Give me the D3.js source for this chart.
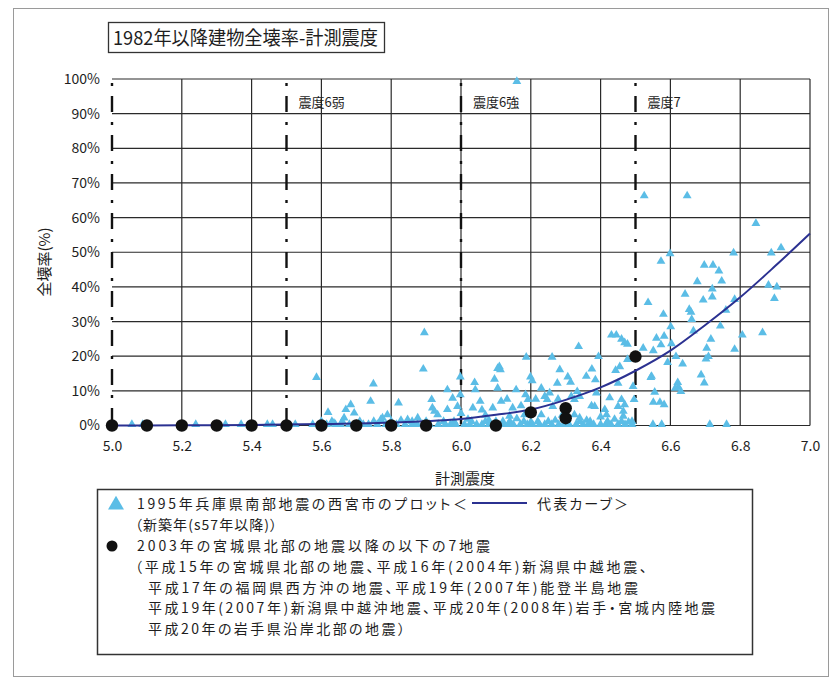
<!DOCTYPE html>
<html>
<head>
<meta charset="utf-8">
<script src="https://cdn.jsdelivr.net/npm/d3@7"></script>
<style>
  body { margin: 0; background: #fff; }
  svg text {
    font-family: "Noto Sans CJK JP", "Noto Sans", sans-serif;
    font-feature-settings: "palt";
    fill: #1e1e1e;
  }
</style>
</head>
<body>
<svg id="chart" width="837" height="683"></svg>
<script>
// ---- data ----
const titleText = "1982年以降建物全壊率-計測震度";
const xAxisTitle = "計測震度";
const yAxisTitle = "全壊率(%)";
const xTicks = [5.0, 5.2, 5.4, 5.6, 5.8, 6.0, 6.2, 6.4, 6.6, 6.8, 7.0];
const yTicks = [0, 10, 20, 30, 40, 50, 60, 70, 80, 90, 100];

// JMA intensity class boundaries (dash-dot lines) and their labels
const intensityBounds = [5.0, 5.5, 6.0, 6.5];
const intensityLabels = [
  { at: 5.5, text: "震度6弱" },
  { at: 6.0, text: "震度6強" },
  { at: 6.5, text: "震度7" }
];

// 1995 Hyogo-ken Nanbu earthquake, Nishinomiya (buildings from 1982 on):
// [instrumental intensity, collapse rate %]
const hyogoPoints = [
  [6.16, 99.3], [6.525, 66.3], [6.648, 66.3], [6.845, 58.3],
  [6.599, 49.6], [6.573, 47.4], [6.781, 49.8], [6.889, 49.8], [6.917, 51.3],
  [6.697, 46.3], [6.722, 46.3], [6.739, 44.6], [6.677, 41.5], [6.747, 41.7],
  [6.720, 39.4], [6.720, 37.1], [6.642, 37.9], [6.694, 36.2], [6.536, 35.5],
  [6.881, 40.5], [6.905, 40.0], [6.898, 36.7], [6.784, 36.4],
  [6.654, 33.5], [6.659, 32.7], [6.661, 30.6], [6.580, 32.1], [6.759, 33.3],
  [6.601, 28.5], [6.743, 28.7], [6.666, 27.3], [6.806, 26.1], [6.864, 26.8],
  [6.716, 24.9], [6.560, 25.2], [6.582, 25.8], [6.573, 23.3], [6.603, 23.6],
  [6.522, 22.3], [6.551, 21.6], [6.704, 22.3], [6.784, 22.0],
  [6.709, 19.9], [6.702, 19.2], [6.616, 19.9], [6.592, 18.2], [6.635, 17.8],
  [6.546, 14.2], [6.688, 14.6], [6.697, 12.3], [6.621, 12.4], [6.623, 11.1],
  [6.614, 10.8], [6.630, 9.8], [6.555, 9.6], [6.551, 6.7], [6.570, 6.7], [6.582, 6.0],
  [6.431, 26.1], [6.445, 26.1], [6.460, 24.9], [6.469, 23.9], [6.477, 23.5],
  [6.337, 22.8], [6.187, 19.7], [6.261, 19.7], [6.394, 19.9], [6.477, 19.1],
  [6.110, 17.0], [6.113, 16.1], [6.283, 16.1], [6.375, 16.3], [6.443, 15.9], [6.455, 17.0],
  [6.359, 14.2], [6.385, 13.2], [6.450, 12.2], [6.493, 11.3], [6.544, 13.9],
  [6.388, 9.4], [6.426, 8.0], [6.460, 7.5], [6.496, 7.5], [6.374, 5.7],
  [6.412, 4.6], [6.465, 4.1], [6.417, 3.1], [6.465, 2.7],
  [6.096, 13.4], [6.199, 14.0], [6.204, 12.9], [6.306, 14.0], [6.314, 12.5],
  [6.276, 12.2], [6.105, 10.8], [6.158, 10.3], [6.230, 10.8], [6.254, 9.4], [6.333, 9.8],
  [6.132, 7.6], [6.115, 7.0], [6.091, 5.1], [6.185, 8.9], [6.192, 7.5], [6.214, 7.6],
  [6.240, 8.4], [6.247, 7.5], [6.278, 7.6], [6.316, 8.4], [6.325, 7.5], [6.340, 8.4],
  [6.383, 5.5], [6.148, 5.1], [6.172, 5.7], [6.263, 5.5], [6.469, 6.0],
  [6.139, 2.7], [6.182, 3.1], [6.230, 3.1], [6.325, 3.1], [6.340, 2.2],
  [5.895, 26.8], [5.892, 16.3], [5.586, 13.9], [5.749, 12.0], [5.741, 7.0],
  [5.821, 6.5], [5.684, 6.0], [5.670, 4.6], [5.694, 3.6], [5.619, 3.8],
  [5.916, 7.5], [5.961, 10.3], [5.976, 7.9], [5.998, 14.0], [5.998, 8.9],
  [5.990, 5.5], [5.961, 4.6], [6.039, 12.4], [6.041, 10.3], [6.105, 16.5],
  [6.055, 7.0], [6.034, 5.1], [5.918, 5.1], [5.924, 4.1], [5.933, 3.1],
  [5.876, 2.2], [5.847, 1.7], [5.828, 1.5], [5.789, 3.1], [5.775, 2.2], [5.770, 1.7],
  [5.665, 2.2], [5.660, 1.2], [5.636, 0.7],
  [6.000, 3.5], [6.070, 3.0], [6.020, 1.8], [6.080, 1.5], [6.120, 1.2], [6.160, 2.0],
  [6.200, 1.0], [6.270, 1.5], [6.290, 3.0], [6.360, 1.5], [6.400, 2.5], [6.440, 1.8],
  [6.480, 1.0], [6.060, 4.5], [6.450, 5.5],
  // near-zero band
  [5.057, 0.3], [5.088, 0.3], [5.240, 0.3], [5.325, 0.3], [5.370, 0.3], [5.445, 0.3],
  [5.460, 0.3], [5.525, 0.3], [5.575, 0.3], [5.615, 0.3], [5.640, 0.3], [5.655, 0.3],
  [5.680, 0.3], [5.700, 0.3], [5.720, 0.3], [5.735, 0.3], [5.760, 0.3], [5.785, 0.3],
  [5.800, 0.3], [5.815, 0.3], [5.840, 0.3], [5.860, 0.3], [5.875, 0.3], [5.890, 0.3],
  [5.910, 0.3], [5.935, 0.3], [5.955, 0.3], [5.970, 0.3], [5.985, 0.3], [6.010, 0.3],
  [6.025, 0.3], [6.045, 0.3], [6.060, 0.3], [6.080, 0.3], [6.095, 0.3], [6.120, 0.3],
  [6.135, 0.3], [6.150, 0.3], [6.170, 0.3], [6.190, 0.3], [6.205, 0.3], [6.225, 0.3],
  [6.240, 0.3], [6.260, 0.3], [6.280, 0.3], [6.295, 0.3], [6.310, 0.3], [6.330, 0.3],
  [6.350, 0.3], [6.365, 0.3], [6.380, 0.3], [6.400, 0.3], [6.415, 0.3], [6.430, 0.3],
  [6.450, 0.3], [6.470, 0.3], [6.490, 0.3], [6.550, 0.3], [6.575, 0.3], [6.713, 0.3],
  [6.761, 0.3],
  [5.600, 1.2], [5.630, 1.2], [5.710, 1.2], [5.750, 1.2], [5.800, 1.2], [5.860, 1.2],
  [5.900, 1.2], [5.950, 1.2], [5.980, 1.2], [6.030, 1.2], [6.070, 1.2], [6.100, 1.2],
  [6.140, 1.2], [6.180, 1.2], [6.220, 1.2], [6.250, 1.2], [6.300, 1.2], [6.340, 1.2],
  [6.370, 1.2], [6.420, 1.2], [6.460, 1.2], [6.490, 1.2]
];

// Seven earthquakes since the 2003 northern Miyagi earthquake
const recentIntensity = [5.0, 5.1, 5.2, 5.3, 5.4, 5.5, 5.6, 5.7, 5.8, 5.9, 6.1, 6.2, 6.3, 6.3, 6.5];
const recentRate      = [0,   0,   0,   0,   0,   0,   0,   0,   0,   0,   0,   3.8, 5.0, 2.1, 19.9];

// Representative curve
const curveIntensity = [5.0, 5.2, 5.4, 5.6, 5.8, 6.0, 6.1, 6.2, 6.3, 6.4, 6.5, 6.6, 6.7, 6.8, 6.9, 7.0];
const curveRate      = [0, 0.05, 0.15, 0.4, 0.9, 1.9, 3.1, 4.6, 7.4, 11.0, 15.8, 21.6, 29.0, 37.0, 46.0, 55.4];

// Legend text
const legendHyogo = "1995年兵庫県南部地震の西宮市のプロット＜";
const legendCurve = "代表カーブ＞";
const legendHyogoSub = "（新築年(s57年以降)）";
const legendRecent = "2003年の宮城県北部の地震以降の以下の7地震";
const legendRecentList = [
  "（平成15年の宮城県北部の地震、平成16年(2004年)新潟県中越地震、",
  "平成17年の福岡県西方沖の地震、平成19年(2007年)能登半島地震",
  "平成19年(2007年)新潟県中越沖地震、平成20年(2008年)岩手・宮城内陸地震",
  "平成20年の岩手県沿岸北部の地震）"
];

// ---- drawing ----
const svg = d3.select("#chart");
const plot = { left: 112, right: 810, top: 79, bottom: 425.5 };
const x = d3.scaleLinear().domain([5, 7]).range([plot.left, plot.right]);
const y = d3.scaleLinear().domain([0, 100]).range([plot.bottom, plot.top]);

// outer frame
svg.append("rect")
  .attr("x", 13.5).attr("y", 8.5).attr("width", 815).attr("height", 668)
  .attr("fill", "none").attr("stroke", "#9a9a9a").attr("stroke-width", 1);

// title box
svg.append("rect")
  .attr("x", 108.5).attr("y", 22.5).attr("width", 276).attr("height", 30)
  .attr("fill", "#fff").attr("stroke", "#333").attr("stroke-width", 1.3);
svg.append("text")
  .attr("x", 113).attr("y", 45)
  .attr("font-size", 19)
  .attr("textLength", 265).attr("lengthAdjust", "spacingAndGlyphs")
  .text(titleText);

// gridlines
const grid = svg.append("g").attr("stroke", "#2a2a2a").attr("stroke-width", 1.2);
grid.selectAll("line.h").data(yTicks).join("line")
  .attr("class", "h")
  .attr("x1", plot.left).attr("x2", plot.right)
  .attr("y1", d => y(d)).attr("y2", d => y(d));
grid.selectAll("line.v").data(xTicks.filter(d => d > 5)).join("line")
  .attr("class", "v")
  .attr("x1", d => x(d)).attr("x2", d => x(d))
  .attr("y1", plot.top).attr("y2", plot.bottom);

// intensity class boundaries
svg.append("g").selectAll("line").data(intensityBounds).join("line")
  .attr("x1", d => x(d)).attr("x2", d => x(d))
  .attr("y1", plot.top).attr("y2", plot.bottom)
  .attr("stroke", "#111").attr("stroke-width", 2.4)
  .attr("stroke-dasharray", "3,10,16,10")
  .attr("stroke-dashoffset", 35);

svg.append("g").selectAll("text").data(intensityLabels).join("text")
  .attr("x", d => x(d.at) + 12)
  .attr("y", 107)
  .attr("font-size", 13)
  .text(d => d.text);

// axes
const xAxis = d3.axisBottom(x).tickValues(xTicks).tickFormat(d3.format(".1f"))
  .tickSize(0).tickPadding(16);
svg.append("g").attr("transform", `translate(0,${plot.bottom})`).call(xAxis)
  .call(g => g.select(".domain").remove())
  .call(g => g.selectAll("text").attr("font-size", 14).attr("font-family", null));

const yAxis = d3.axisLeft(y).tickValues(yTicks).tickFormat(d => d + "%")
  .tickSize(0).tickPadding(12);
svg.append("g").attr("transform", `translate(${plot.left},0)`).call(yAxis)
  .call(g => g.select(".domain").remove())
  .call(g => g.selectAll("text").attr("font-size", 14).attr("font-family", null));

svg.append("text")
  .attr("x", 465).attr("y", 484)
  .attr("text-anchor", "middle").attr("font-size", 15)
  .text(xAxisTitle);
svg.append("text")
  .attr("transform", "translate(50,262) rotate(-90)")
  .attr("text-anchor", "middle").attr("font-size", 15)
  .text(yAxisTitle);

// scatter: Hyogo plots
const tri = d3.symbol().type(d3.symbolTriangle).size(34);
svg.append("g").selectAll("path").data(hyogoPoints).join("path")
  .attr("d", tri)
  .attr("transform", d => `translate(${x(d[0])},${y(d[1])})`)
  .attr("fill", "#5bbde6");

// representative curve
const curvePts = curveIntensity.map((v, i) => [v, curveRate[i]]);
svg.append("path")
  .datum(curvePts)
  .attr("d", d3.line().x(d => x(d[0])).y(d => y(d[1])).curve(d3.curveMonotoneX))
  .attr("fill", "none").attr("stroke", "#2b3191").attr("stroke-width", 2);

// recent earthquakes
svg.append("g").selectAll("circle").data(recentIntensity).join("circle")
  .attr("cx", d => x(d))
  .attr("cy", (d, i) => y(recentRate[i]))
  .attr("r", 6.2)
  .attr("fill", "#111");

// legend
const lg = svg.append("g");
lg.append("rect")
  .attr("x", 97.5).attr("y", 489.5).attr("width", 655).attr("height", 165)
  .attr("fill", "#fff").attr("stroke", "#333").attr("stroke-width", 1.5);
lg.append("path")
  .attr("d", d3.symbol().type(d3.symbolTriangle).size(110))
  .attr("transform", "translate(116,505)")
  .attr("fill", "#5bbde6");
const legendSize = 14;
const legendText = (tx, ty, str, width) => lg.append("text")
  .attr("x", tx).attr("y", ty)
  .attr("font-size", legendSize)
  .attr("textLength", width).attr("lengthAdjust", "spacing")
  .text(str);
legendText(137, 509, legendHyogo, 330);
lg.append("line").attr("x1", 472).attr("x2", 527).attr("y1", 503).attr("y2", 503)
  .attr("stroke", "#2b3191").attr("stroke-width", 2);
legendText(537, 509, legendCurve, 91);
legendText(135, 530, legendHyogoSub, 142);
lg.append("circle").attr("cx", 112).attr("cy", 546).attr("r", 5.5).attr("fill", "#111");
legendText(137, 551, legendRecent, 353);
const listWidths = [512, 490, 567, 257];
legendRecentList.forEach((str, i) =>
  legendText(i === 0 ? 135 : 148, 572 + i * 20.7, str, listWidths[i]));
</script>
</body>
</html>
